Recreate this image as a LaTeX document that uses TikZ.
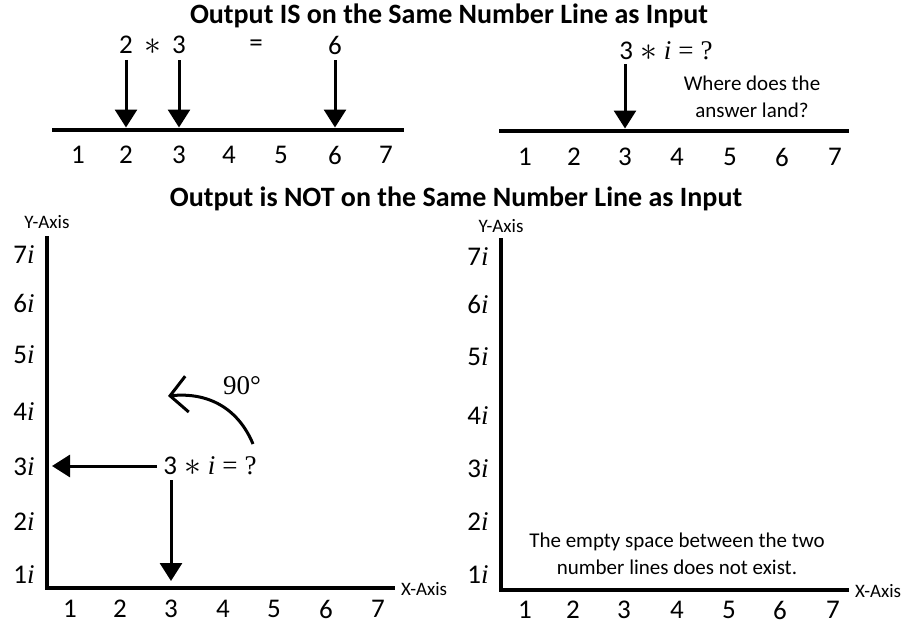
\documentclass[tikz,border=0pt]{standalone}
\usepackage{fontspec}
\setmainfont{Carlito}
\newfontfamily\serif{Liberation Serif}
\newcommand\ivar{{\serif\itshape i}}
\newcommand\qgap{\hspace{0.26em}}
\newcommand\bigast{\raisebox{-0.5pt}{\scalebox{1.35}{$*$}}}
\newcommand\qexpr{3\qgap\bigast\qgap\ivar\qgap{\serif =\qgap?}}
\usetikzlibrary{arrows.meta}
\begin{document}
\begin{tikzpicture}[x=1pt,y=-1pt,
  axisline/.style={line width=4.5pt},
  arr/.style={line width=3pt,-{Triangle[width=22pt,length=18pt]}},
  title/.style={font=\fontsize{28}{32}\bfseries\selectfont, inner sep=0pt},
  num/.style={font=\fontsize{27}{32}\selectfont, inner sep=0pt},
  small/.style={font=\fontsize{21}{27}\selectfont, inner sep=0pt, align=center},
  tiny/.style={font=\fontsize{19}{22}\selectfont, inner sep=0pt}
]
\useasboundingbox (0,0) rectangle (902,626);

% ---------- titles
\node[title] (t1) at (449,16) {Output IS on the Same Number Line as Input};
\node[title] (t2) at (456,199) {Output is NOT on the Same Number Line as Input};

% ---------- top-left number line
\coordinate (l1a) at (52,130);
\coordinate (l1b) at (404,130);
\draw[axisline] (l1a) -- (l1b);
\foreach \i/\x in {1/78,2/126,3/179,4/229,5/281,6/335,7/386}
  \node[num] (tl\i) at (\x,155) {\i};
\node[num] (a2) at (126,45) {2};
\node[num] (ast) at (153,47) {\bigast};
\node[num] (a3) at (179,45) {3};
\node[num] (eq) at (256,46) {=};
\node[num] (a6) at (335,45) {6};
\foreach \n in {a2,a3,a6}
  \draw[arr,shorten >=2.5pt] ([yshift=-6pt]\n.south) -- (\n |- l1a);

% ---------- top-right number line
\coordinate (l2a) at (499,131);
\coordinate (l2b) at (849,131);
\draw[axisline] (l2a) -- (l2b);
\foreach \i/\x in {1/525,2/574,3/625,4/677,5/730,6/782,7/835}
  \node[num] (tr\i) at (\x,157) {\i};
\node[num] (q1) at (666,51) {\qexpr};
\draw[arr,shorten >=2.5pt] ([yshift=-4pt]q1.south -| tr3) -- (tr3 |- l2a);
\node[small] (where) at (752,97) {Where does the\\answer land?};

% ---------- bottom-left axes
\coordinate (yt1) at (47,236);
\coordinate (o1) at (47,588);
\coordinate (xe1) at (395,588);
\draw[axisline] (yt1) -- (o1) -- (xe1);
\node[tiny] (ya1) at (47,222) {Y-Axis};
\node[tiny,anchor=west] (xa1) at (401,589) {X-Axis};
\foreach \i/\y in {7/255,6/303,5/355,4/412,3/467,2/522,1/575}
  \node[num] (ly\i) at (24,\y) {\i\ivar};
\foreach \i/\x in {1/70,2/120,3/171,4/223,5/274,6/326,7/378}
  \node[num] (bx\i) at (\x,609) {\i};
\node[num] (q2) at (210,466) {\qexpr};
\draw[arr,shorten >=5pt] ([xshift=-6pt]q2.west) -- (q2.west -| o1);
\draw[arr,shorten >=7pt] ([yshift=-5pt]q2.south -| bx3) -- (bx3 |- o1);
\coordinate (cs) at (253,444);
\coordinate (ce) at (168,396);
\draw[line width=3pt,-{Straight Barb[length=17pt,width=36pt]}] (cs) .. controls (238,408) and (208,392) .. (ce);
\node[num] (deg) at (242,386) {\serif 90°};

% ---------- bottom-right axes
\coordinate (yt2) at (501,238);
\coordinate (o2) at (501,590);
\coordinate (xe2) at (849,590);
\draw[axisline] (yt2) -- (o2) -- (xe2);
\node[tiny] (ya2) at (501,226) {Y-Axis};
\node[tiny,anchor=west] (xa2) at (855,591) {X-Axis};
\foreach \i/\y in {7/257,6/304,5/357,4/416,3/469,2/522,1/575}
  \node[num] (ry\i) at (478,\y) {\i\ivar};
\foreach \i/\x in {1/525,2/573,3/624,4/677,5/729,6/780,7/833}
  \node[num] (rx\i) at (\x,610) {\i};
\node[small] (empty) at (677,554) {The empty space between the two\\number lines does not exist.};
\end{tikzpicture}
\end{document}
